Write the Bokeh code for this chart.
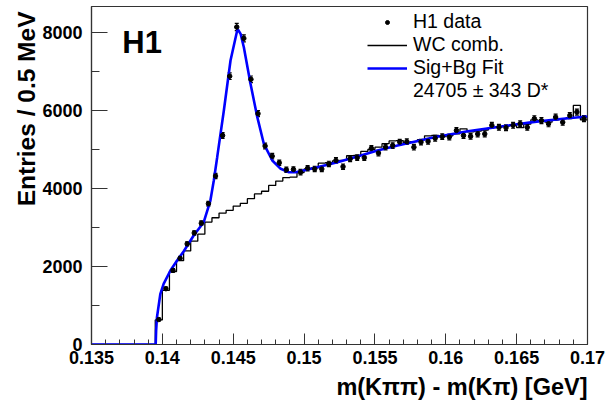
import numpy as np
from bokeh.plotting import figure
from bokeh.models import (ColumnDataSource, FixedTicker, Whisker, TeeHead, Legend,
                          LegendItem, Label, Title, Range1d)
from bokeh.embed import file_html
from bokeh.resources import INLINE

# ---------------- data ----------------
bin_width = 0.0005
first_center = 0.13975

data_counts = [640, 1430, 1900, 2210, 2580, 2860, 3110, 3610, 4320, 5360,
               6880, 8140, 7850, 6800, 5920, 5090, 4830, 4660, 4480, 4490,
               4420, 4520, 4500, 4500, 4630, 4720, 4560, 4760, 4790, 4790,
               5030, 4910, 5060, 5100, 5190, 5200, 5060, 5190, 5210, 5290,
               5330, 5320, 5490, 5360, 5340, 5400, 5400, 5620, 5570, 5560,
               5620, 5660, 5570, 5790, 5740, 5660, 5830, 5700, 5870, 5960,
               5790]
data_errors = [30, 40, 45, 50, 52, 55, 58, 62, 68, 75,
               85, 92, 90, 85, 78, 72, 70, 68, 68, 68,
               68, 68, 68, 68, 69, 70, 69, 70, 70, 70,
               71, 71, 72, 72, 72, 72, 72, 72, 72, 73,
               73, 73, 74, 74, 74, 74, 74, 75, 75, 75,
               75, 75, 75, 76, 76, 76, 76, 76, 77, 77,
               77]
wc_counts = [630, 1390, 1870, 2150, 2400, 2650, 2830, 3140, 3250, 3370,
             3440, 3550, 3620, 3740, 3860, 3930, 4080, 4190, 4280, 4290,
             4410, 4500, 4530, 4650, 4660, 4710, 4720, 4840, 4850, 4950,
             5000, 5060, 5150, 5220, 5230, 5180, 5200, 5250, 5350, 5360,
             5330, 5350, 5400, 5530, 5450, 5470, 5500, 5560, 5580, 5600,
             5620, 5560, 5650, 5760, 5740, 5700, 5760, 5790, 5820, 6130,
             5760]

fit_x = [0.135, 0.13953, 0.13956, 0.13962, 0.13986, 0.14009, 0.14057, 0.14104,
         0.14151, 0.14221, 0.14292, 0.14339, 0.14363, 0.14387, 0.14434, 0.14481,
         0.14528, 0.14535, 0.14552, 0.14575, 0.14622, 0.14670, 0.14716, 0.14776,
         0.14835, 0.14893, 0.14941, 0.15094, 0.15235, 0.15377, 0.15518, 0.15660,
         0.15919, 0.16155, 0.16390, 0.16626, 0.16862, 0.17]
fit_y = [0, 0, 350, 700, 1300, 1556, 1897, 2154,
         2390, 2795, 3137, 3692, 4205, 4803, 6000, 7282,
         8051, 8069, 7967, 7623, 6685, 5829, 5146, 4718,
         4505, 4418, 4418, 4547, 4675, 4820, 4974, 5103,
         5316, 5470, 5590, 5709, 5803, 5846]

x_ticks = [0.135, 0.14, 0.145, 0.15, 0.155, 0.16, 0.165, 0.17]
x_tick_labels = ["0.135", "0.14", "0.145", "0.15", "0.155", "0.16", "0.165", "0.17"]
y_ticks = [0, 2000, 4000, 6000, 8000]
y_tick_labels = ["0", "2000", "4000", "6000", "8000"]
y_minor = [1000, 3000, 5000, 7000]

FONT = "Liberation Sans"

# ---------------- derived ----------------
n = len(data_counts)
centers = [first_center + k * bin_width for k in range(n)]
edges = [c - bin_width / 2 for c in centers] + [centers[-1] + bin_width / 2]

src = ColumnDataSource(dict(x=centers, y=data_counts,
                            lo=[v - e for v, e in zip(data_counts, data_errors)],
                            hi=[v + e for v, e in zip(data_counts, data_errors)]))

p = figure(width=605, height=406, x_range=Range1d(0.135, 0.17), y_range=Range1d(0, 8667),
           output_backend="svg", toolbar_location=None,
           min_border_left=91, min_border_right=18, min_border_top=6, min_border_bottom=62)
p.xgrid.visible = False
p.ygrid.visible = False
p.outline_line_color = "#333333"
p.outline_line_width = 1.2
p.background_fill_color = "white"
p.border_fill_color = "white"

# axes
xa = p.xaxis[0]
xa.ticker = FixedTicker(ticks=x_ticks, minor_ticks=list(np.arange(0.135, 0.17001, 0.001)))
xa.major_label_overrides = {t: l for t, l in zip(x_ticks, x_tick_labels)}
xa.major_tick_in = 11
xa.major_tick_out = 0
xa.minor_tick_in = 5
xa.minor_tick_out = 0
xa.major_label_standoff = 6

ya = p.yaxis[0]
ya.ticker = FixedTicker(ticks=y_ticks, minor_ticks=y_minor)
ya.major_label_overrides = {t: l for t, l in zip(y_ticks, y_tick_labels)}
ya.major_tick_in = 16
ya.major_tick_out = 0
ya.minor_tick_in = 8
ya.minor_tick_out = 0
ya.major_label_standoff = 9

for ax in (xa, ya):
    ax.axis_line_color = "#333333"
    ax.axis_line_width = 1.2
    ax.major_tick_line_color = "#333333"
    ax.minor_tick_line_color = "#333333"
    ax.major_label_text_font = FONT
    ax.major_label_text_font_style = "bold"
    ax.major_label_text_font_size = "18px"
    ax.major_label_text_color = "black"

# WC histogram outline
hx = [0.135] + edges
hy = [0] + wc_counts + [wc_counts[-1]]
r_wc = p.step(hx, hy, mode="after", line_color="black", line_width=1.3)

# fit curve
r_fit = p.line(fit_x, fit_y, line_color="#0000ff", line_width=2.6)

# data with errors
p.add_layout(Whisker(source=src, base="x", lower="lo", upper="hi", dimension="height",
                     line_color="black", line_width=1.2,
                     upper_head=TeeHead(size=4, line_color="black", line_width=1.2),
                     lower_head=TeeHead(size=4, line_color="black", line_width=1.2)))
r_data = p.scatter("x", "y", source=src, size=4.5, color="black")

r_dummy = p.line([0.136], [0], line_alpha=0)

legend = Legend(items=[
    LegendItem(label="H1 data", renderers=[r_data]),
    LegendItem(label="WC comb.", renderers=[r_wc]),
    LegendItem(label="Sig+Bg Fit", renderers=[r_fit]),
    LegendItem(label="24705 \u00b1 343 D*", renderers=[r_dummy]),
], location=(276, 242), orientation="vertical",
    label_text_font=FONT, label_text_font_size="19.5px", label_standoff=6,
    label_text_color="black",
    glyph_width=40, glyph_height=10, label_height=22, spacing=0,
    padding=0, margin=0, border_line_alpha=0, background_fill_alpha=0)
p.add_layout(legend, "center")

# H1 label
p.add_layout(Label(x=0.13717, y=7743, text="H1", text_font=FONT, text_font_style="bold",
                   text_font_size="31px", text_color="black", text_baseline="alphabetic"))

# axis titles
p.add_layout(Title(text="Entries / 0.5 MeV", align="right", text_font=FONT,
                   text_font_style="bold", text_font_size="24.5px", standoff=0,
                   offset=5, text_color="black"), "left")
p.add_layout(Title(text="m(K\u03c0\u03c0) - m(K\u03c0) [GeV]", align="right", text_font=FONT,
                   text_font_style="bold", text_font_size="23.5px", standoff=10,
                   text_color="black"), "below")

open("out.html", "w").write(file_html(p, INLINE))
